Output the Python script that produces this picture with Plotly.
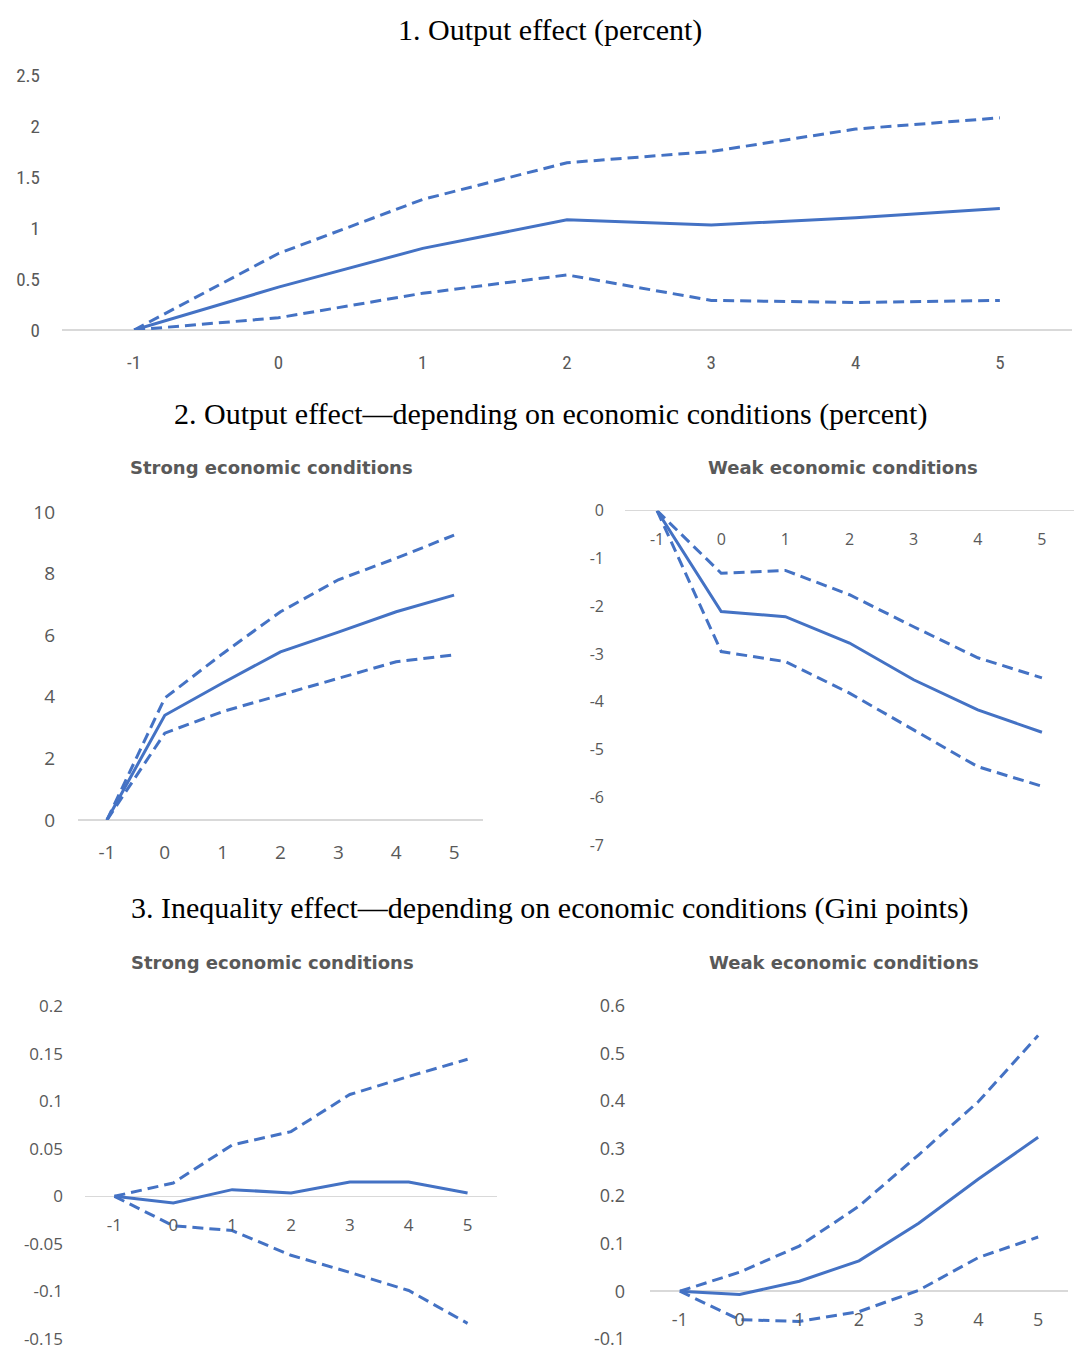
import plotly.graph_objects as go

W, H = 1076, 1353

horizons = [-1, 0, 1, 2, 3, 4, 5]
x_ticktext = ["-1", "0", "1", "2", "3", "4", "5"]

# Panel 1: Output effect (percent)
p1_mid = [0, 0.42, 0.80, 1.08, 1.03, 1.10, 1.19]
p1_upper = [0, 0.75, 1.28, 1.64, 1.75, 1.97, 2.08]
p1_lower = [0, 0.12, 0.36, 0.54, 0.29, 0.27, 0.29]
p1_yticks = [0, 0.5, 1, 1.5, 2, 2.5]
p1_yticktext = ["0", "0.5", "1", "1.5", "2", "2.5"]

# Panel 2: Output effect by economic conditions
p2s_mid = [0, 3.40, 4.45, 5.46, 6.10, 6.76, 7.30]
p2s_upper = [0, 3.96, 5.40, 6.76, 7.80, 8.50, 9.25]
p2s_lower = [0, 2.82, 3.52, 4.06, 4.60, 5.14, 5.36]
p2s_yticks = [0, 2, 4, 6, 8, 10]
p2s_yticktext = ["0", "2", "4", "6", "8", "10"]

p2w_mid = [0, -2.11, -2.22, -2.77, -3.54, -4.17, -4.64]
p2w_upper = [0, -1.31, -1.25, -1.76, -2.43, -3.08, -3.50]
p2w_lower = [0, -2.95, -3.16, -3.82, -4.59, -5.36, -5.77]
p2w_yticks = [0, -1, -2, -3, -4, -5, -6, -7]
p2w_yticktext = ["0", "-1", "-2", "-3", "-4", "-5", "-6", "-7"]

# Panel 3: Inequality effect by economic conditions (Gini points)
p3s_mid = [0, -0.007, 0.007, 0.0035, 0.015, 0.015, 0.0035]
p3s_upper = [0, 0.014, 0.054, 0.068, 0.107, 0.126, 0.144]
p3s_lower = [0, -0.031, -0.036, -0.062, -0.080, -0.099, -0.1335]
p3s_yticks = [-0.15, -0.1, -0.05, 0, 0.05, 0.1, 0.15, 0.2]
p3s_yticktext = ["-0.15", "-0.1", "-0.05", "0", "0.05", "0.1", "0.15", "0.2"]

p3w_mid = [0, -0.007, 0.021, 0.064, 0.143, 0.236, 0.324]
p3w_upper = [0, 0.040, 0.095, 0.179, 0.287, 0.399, 0.538]
p3w_lower = [0, -0.060, -0.0635, -0.043, 0.002, 0.071, 0.114]
p3w_yticks = [-0.1, 0, 0.1, 0.2, 0.3, 0.4, 0.5, 0.6]
p3w_yticktext = ["-0.1", "0", "0.1", "0.2", "0.3", "0.4", "0.5", "0.6"]

titles = [
    "1. Output effect (percent)",
    "2. Output effect\u2014depending on economic conditions (percent)",
    "3. Inequality effect\u2014depending on economic conditions (Gini points)",
]
subtitles = ["Strong economic conditions", "Weak economic conditions"]

BLUE = "#4472C4"
GRAY = "#595959"
AXIS = "#D9D9D9"
DASH = "11px,6px"


def fx(px):
    return px / W


def fy(py):
    return 1 - py / H


TICK_NARROW = "Liberation Sans Narrow, Roboto Condensed, Liberation Sans"
TICK_FONT = "Open Sans, Lato"

panels = [
    # mid, upper, lower, x domain px, y domain px (top,bottom), y range, y ticks, y tick text,
    # zero line px, tick font family, tick size, x-label standoff, y-label standoff
    (p1_mid, p1_upper, p1_lower, (62, 1072), (75, 330), [0, 2.5], p1_yticks, p1_yticktext, 330, TICK_NARROW, 19, 19, 21),
    (p2s_mid, p2s_upper, p2s_lower, (78, 483), (512, 820), [0, 10], p2s_yticks, p2s_yticktext, 820, TICK_FONT, 19, 19, 22),
    (p2w_mid, p2w_upper, p2w_lower, (625, 1074), (510.7, 845), [-7, 0], p2w_yticks, p2w_yticktext, 510.7, TICK_FONT, 16, 17, 20),
    (p3s_mid, p3s_upper, p3s_lower, (85, 497), (1006, 1339.5), [-0.1505, 0.2], p3s_yticks, p3s_yticktext, None, TICK_FONT, 17, 17, 21),
    (p3w_mid, p3w_upper, p3w_lower, (650, 1068), (1006, 1339), [-0.1005, 0.6], p3w_yticks, p3w_yticktext, None, TICK_FONT, 18, 16, 24),
]

fig = go.Figure()
layout = {}
for i, (mid, up, lo, xd, yd, yr, yt, ytt, zero, fam, fs, xs, ys) in enumerate(panels):
    n = "" if i == 0 else str(i + 1)
    xa, ya = "x" + n, "y" + n
    if zero is None:
        # pixel row of the value 0 on this y axis
        zero = yd[1] - (0 - yr[0]) / (yr[1] - yr[0]) * (yd[1] - yd[0])
    for vals, dash in ((up, DASH), (lo, DASH), (mid, "solid")):
        fig.add_trace(go.Scatter(
            x=horizons, y=vals, xaxis=xa, yaxis=ya, mode="lines",
            line=dict(color=BLUE, width=3, dash=dash),
            showlegend=False, hoverinfo="skip",
        ))
    layout["xaxis" + n] = dict(
        domain=[fx(xd[0]), fx(xd[1])], range=[-1.5, 5.5],
        anchor="free", position=fy(zero), automargin=False,
        tickvals=horizons, ticktext=x_ticktext, ticklabeloverflow="allow",
        showgrid=False, zeroline=False, showline=False, ticks="",
        ticklabelstandoff=xs,
        tickfont=dict(family=fam, size=fs, color=GRAY),
        fixedrange=True,
    )
    layout["yaxis" + n] = dict(
        domain=[fy(yd[1]), fy(yd[0])], range=yr, anchor=xa, automargin=False,
        tickvals=yt, ticktext=ytt, ticklabeloverflow="allow",
        showgrid=False, zeroline=True, zerolinecolor=AXIS, zerolinewidth=1.5,
        showline=False, ticks="", ticklabelstandoff=ys,
        tickfont=dict(family=fam, size=fs, color=GRAY),
        fixedrange=True,
    )

annotations = []
for text, (xc, yc) in zip(titles, [(550, 30), (550, 414), (550, 908)]):
    annotations.append(dict(
        text=text, x=fx(xc), y=fy(yc), xref="paper", yref="paper",
        xanchor="center", yanchor="middle", showarrow=False,
        font=dict(family="Liberation Serif", size=30, color="#000000"),
    ))
for (xc, yc), text in [((271, 467), subtitles[0]), ((843, 467), subtitles[1]),
                       ((272, 962), subtitles[0]), ((844, 962), subtitles[1])]:
    annotations.append(dict(
        text="<b>%s</b>" % text, x=fx(xc), y=fy(yc), xref="paper", yref="paper",
        xanchor="center", yanchor="middle", showarrow=False,
        font=dict(family="DejaVu Sans", size=18, color=GRAY),
    ))

fig.update_layout(
    width=W, height=H, margin=dict(l=0, r=0, t=0, b=0, autoexpand=False),
    paper_bgcolor="white", plot_bgcolor="white",
    annotations=annotations, **layout,
)

fig.write_html(
    "out.html",
    config={"displayModeBar": False, "staticPlot": True},
    post_script="document.body.style.margin='0';document.body.style.overflow='hidden';",
)
